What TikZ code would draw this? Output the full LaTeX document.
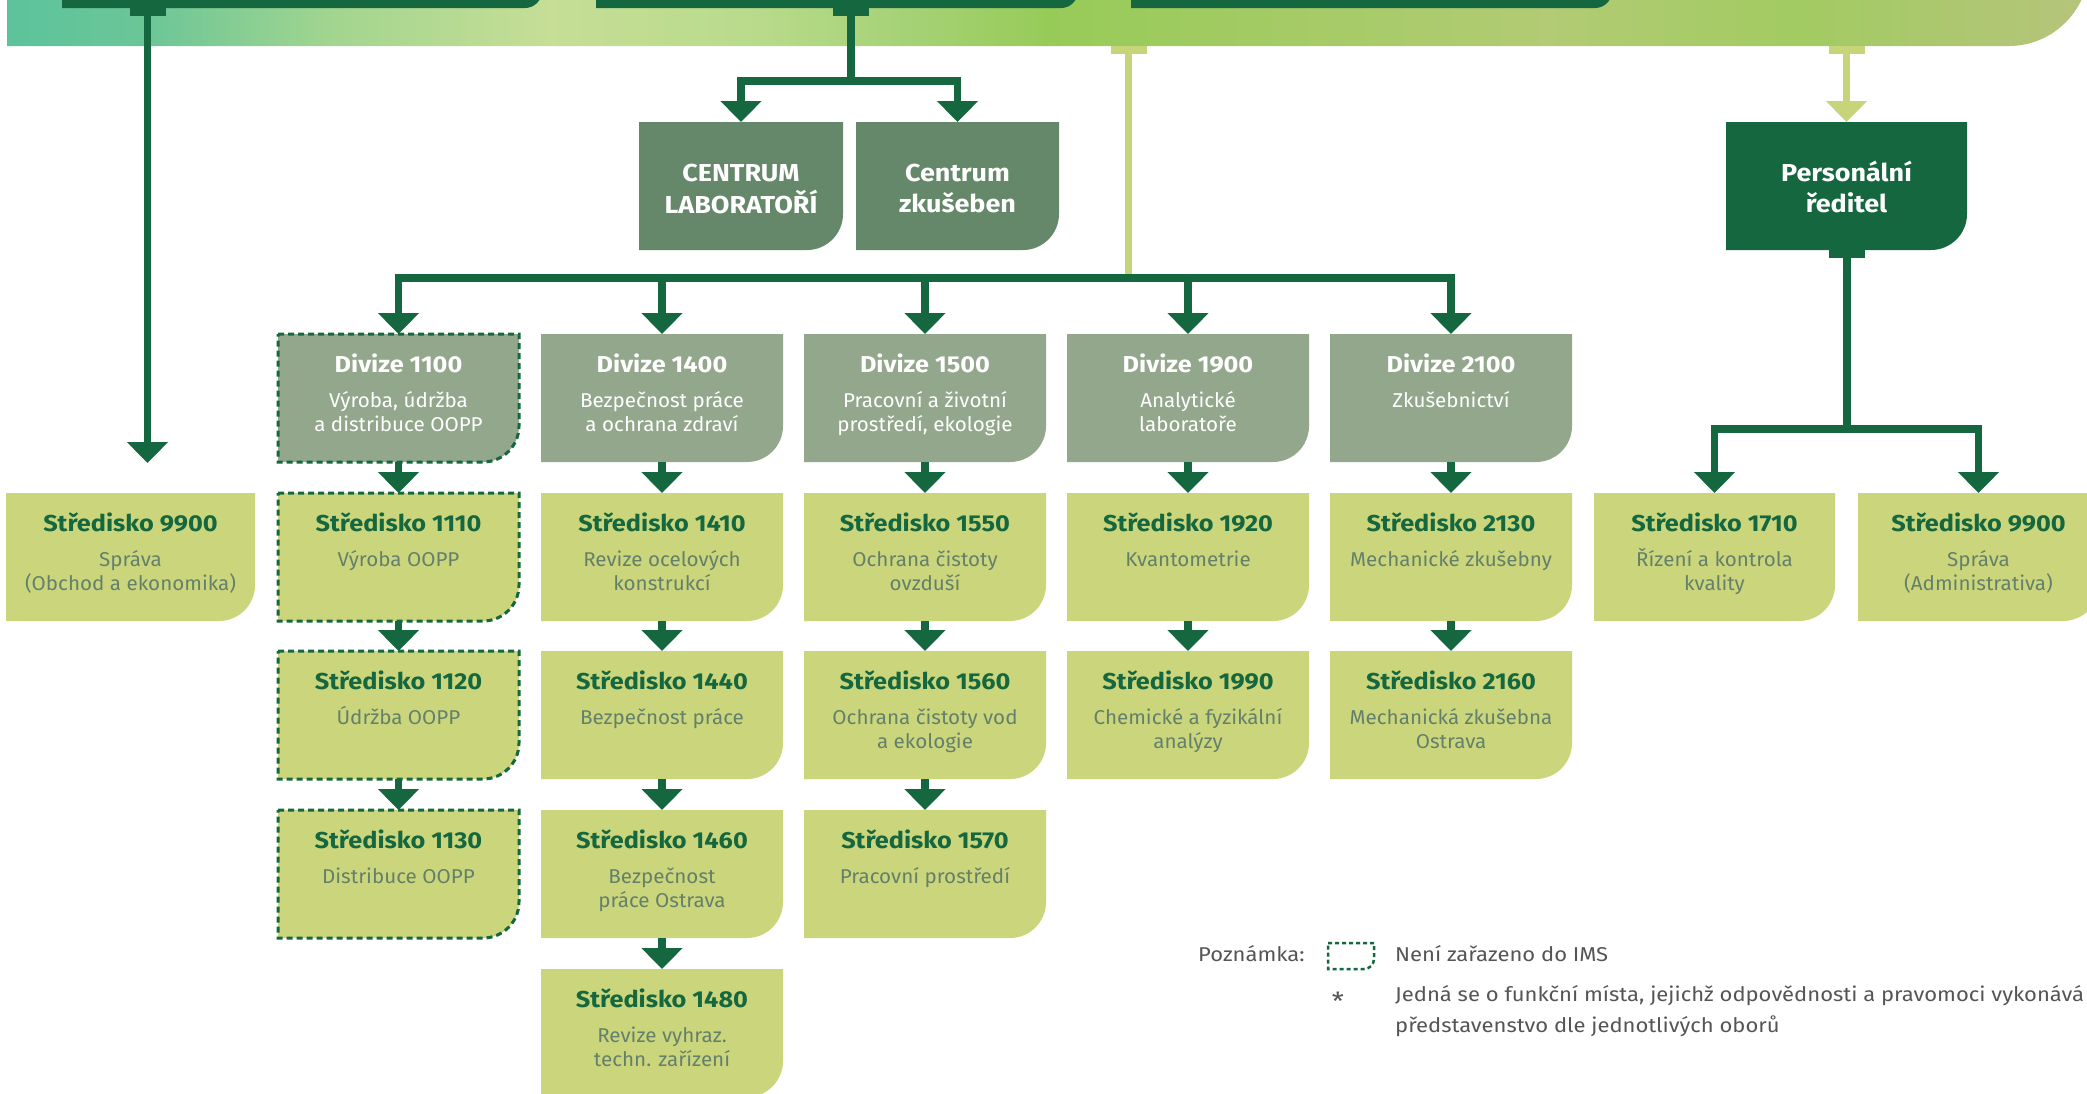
\documentclass[tikz,border=0pt]{standalone}
\usepackage{fontspec}
\setmainfont{Fira Sans}[FakeStretch=1.1]
\newfontfamily\subfont{Fira Sans}[FakeStretch=1.03]
\usetikzlibrary{arrows.meta,calc}
\definecolor{dkgreen}{HTML}{15673F}
\definecolor{divfill}{HTML}{93A78C}
\definecolor{cenfill}{HTML}{66886A}
\definecolor{stfill}{HTML}{CBD67C}
\definecolor{ltgreen}{HTML}{C8D47A}
\definecolor{subgray}{HTML}{64806A}
\definecolor{notegray}{HTML}{555555}
\definecolor{b0}{HTML}{5CC39C}
\definecolor{b1}{HTML}{6CC697}
\definecolor{b2}{HTML}{A2D58F}
\definecolor{b3}{HTML}{C6DE96}
\definecolor{b4}{HTML}{B9DB8C}
\definecolor{b5}{HTML}{A6D277}
\definecolor{b6}{HTML}{97CB58}
\definecolor{b7}{HTML}{A5CB66}
\definecolor{b8}{HTML}{B2CB74}
\definecolor{b9}{HTML}{A2CB62}
\definecolor{b10}{HTML}{B6C47C}
\pgfdeclarehorizontalshading{banner}{100bp}{color(0bp)=(b0); color(25bp)=(b0); color(28.4bp)=(b1); color(32.8bp)=(b2); color(38bp)=(b3); color(42.8bp)=(b4); color(46.5bp)=(b5); color(50bp)=(b6); color(56bp)=(b7); color(62bp)=(b8); color(68bp)=(b9); color(75bp)=(b10); color(100bp)=(b10)}
\newcommand\ml[1]{\begin{tabular}[t]{@{}c@{}}#1\end{tabular}}
% optional radius, name, x, y, w, h, style
\newcommand\orgbox[7][36]{%
  \path[#7] (#3,#4) -- (#3+#5,#4) -- (#3+#5,#4+#6-#1)
    .. controls (#3+#5,#4+#6-0.448*#1) and (#3+#5-0.448*#1,#4+#6) .. (#3+#5-#1,#4+#6)
    -- (#3,#4+#6) -- cycle;
  \node[anchor=north west, inner sep=0pt, outer sep=0pt, minimum width=#5pt, minimum height=#6pt] (#2) at (#3,#4) {};}
% name, title style, title, sub style, sub
\newcommand\btext[5]{%
  \node[#2] (#1-t) at ($(#1.north)+(0,38.5)$) {#3};
  \node[#4] (#1-s) at ($(#1.north)+(0,73)$) {\ml{#5}};}
\tikzset{
 ttl/.style={anchor=base, inner sep=0pt, font=\fontsize{23}{31}\selectfont\bfseries, text=dkgreen},
 wttl/.style={ttl, text=white},
 cttl/.style={wttl, font=\fontsize{24.5}{31}\selectfont\bfseries},
 sub/.style={anchor=base, inner sep=0pt, font=\subfont\fontsize{20}{24}\selectfont, text=subgray},
 wsub/.style={sub, text=white},
 note/.style={inner sep=0pt, font=\fontsize{20}{24}\selectfont, text=notegray},
 conn/.style={draw=dkgreen, line width=7.5pt},
 lconn/.style={draw=ltgreen, line width=7.5pt},
 arr/.style={-{Triangle[width=40pt,length=21pt]}},
 tabstub/.style={fill=dkgreen, minimum width=36pt, minimum height=8pt, inner sep=0pt, outer sep=0pt},
 ltabstub/.style={tabstub, fill=ltgreen},
 stbox/.style={fill=stfill},
 stdash/.style={fill=stfill, draw=dkgreen, line width=3pt, dash pattern=on 6pt off 4pt},
 dvbox/.style={fill=divfill},
 dvdash/.style={fill=divfill, draw=dkgreen, line width=3pt, dash pattern=on 6pt off 4pt},
 cnbox/.style={fill=cenfill},
 dkbox/.style={fill=dkgreen},
}
\begin{document}
\begin{tikzpicture}[x=1pt,y=-1pt]
\useasboundingbox (0,0) rectangle (2087,1093);
\fill[white] (0,0) rectangle (2087,1093);
% banner
\path[shading=banner] (7,-40) -- (2089,-40) -- (2089,-34) .. controls (2089,10) and (2053,46) .. (2009,46) -- (7,46) -- cycle;
% top boxes
\orgbox[17]{top1}{62}{-60}{480}{68}{dkbox}
\orgbox[17]{top2}{596}{-60}{482}{68}{dkbox}
\orgbox[17]{top3}{1131}{-60}{481}{68}{dkbox}
% centrum and personal boxes
\orgbox{cl}{639}{122}{204}{128}{cnbox}
\orgbox{cz}{856}{122}{203}{128}{cnbox}
\orgbox{pr}{1726}{122}{241}{128}{dkbox}
\node[cttl] (cl-t) at ($(cl.north)+(0,59)$) {\ml{CENTRUM\\LABORATOŘÍ}};
\node[cttl] (cz-t) at ($(cz.north)+(0,59)$) {\ml{Centrum\\zkušeben}};
\node[cttl] (pr-t) at ($(pr.north)+(0,59)$) {\ml{Personální\\ředitel}};
% divisions
\orgbox{d1100}{278}{334}{241}{128}{dvdash}
\orgbox{d1400}{541}{334}{242}{128}{dvbox}
\orgbox{d1500}{804}{334}{242}{128}{dvbox}
\orgbox{d1900}{1067}{334}{242}{128}{dvbox}
\orgbox{d2100}{1330}{334}{242}{128}{dvbox}
\btext{d1100}{wttl}{Divize 1100}{wsub}{Výroba, údržba\\a distribuce OOPP}
\btext{d1400}{wttl}{Divize 1400}{wsub}{Bezpečnost práce\\a ochrana zdraví}
\btext{d1500}{wttl}{Divize 1500}{wsub}{Pracovní a životní\\prostředí, ekologie}
\btext{d1900}{wttl}{Divize 1900}{wsub}{Analytické\\laboratoře}
\btext{d2100}{wttl}{Divize 2100}{wsub}{Zkušebnictví}
% row 1
\orgbox{sL9900}{6}{493}{249}{128}{stbox}
\orgbox{s1110}{278}{493}{241}{128}{stdash}
\orgbox{s1410}{541}{493}{242}{128}{stbox}
\orgbox{s1550}{804}{493}{242}{128}{stbox}
\orgbox{s1920}{1067}{493}{242}{128}{stbox}
\orgbox{s2130}{1330}{493}{242}{128}{stbox}
\orgbox{s1710}{1594}{493}{241}{128}{stbox}
\orgbox{sR9900}{1858}{493}{241}{128}{stbox}
\btext{sL9900}{ttl}{Středisko 9900}{sub}{Správa\\(Obchod a ekonomika)}
\btext{s1110}{ttl}{Středisko 1110}{sub}{Výroba OOPP}
\btext{s1410}{ttl}{Středisko 1410}{sub}{Revize ocelových\\konstrukcí}
\btext{s1550}{ttl}{Středisko 1550}{sub}{Ochrana čistoty\\ovzduší}
\btext{s1920}{ttl}{Středisko 1920}{sub}{Kvantometrie}
\btext{s2130}{ttl}{Středisko 2130}{sub}{Mechanické zkušebny}
\btext{s1710}{ttl}{Středisko 1710}{sub}{Řízení a kontrola\\kvality}
\btext{sR9900}{ttl}{Středisko 9900}{sub}{Správa\\(Administrativa)}
% row 2
\orgbox{s1120}{278}{651}{241}{128}{stdash}
\orgbox{s1440}{541}{651}{242}{128}{stbox}
\orgbox{s1560}{804}{651}{242}{128}{stbox}
\orgbox{s1990}{1067}{651}{242}{128}{stbox}
\orgbox{s2160}{1330}{651}{242}{128}{stbox}
\btext{s1120}{ttl}{Středisko 1120}{sub}{Údržba OOPP}
\btext{s1440}{ttl}{Středisko 1440}{sub}{Bezpečnost práce}
\btext{s1560}{ttl}{Středisko 1560}{sub}{Ochrana čistoty vod\\a ekologie}
\btext{s1990}{ttl}{Středisko 1990}{sub}{Chemické a fyzikální\\analýzy}
\btext{s2160}{ttl}{Středisko 2160}{sub}{Mechanická zkušebna\\Ostrava}
% row 3
\orgbox{s1130}{278}{810}{241}{128}{stdash}
\orgbox{s1460}{541}{810}{242}{128}{stbox}
\orgbox{s1570}{804}{810}{242}{128}{stbox}
\btext{s1130}{ttl}{Středisko 1130}{sub}{Distribuce OOPP}
\btext{s1460}{ttl}{Středisko 1460}{sub}{Bezpečnost\\práce Ostrava}
\btext{s1570}{ttl}{Středisko 1570}{sub}{Pracovní prostředí}
% row 4
\orgbox{s1480}{541}{969}{242}{128}{stbox}
\btext{s1480}{ttl}{Středisko 1480}{sub}{Revize vyhraz.\\techn. zařízení}
% connectors
\coordinate (e9900) at (147.5,463);
\coordinate (cj) at (851,81);
\coordinate (dj) at (1128.5,278);
\coordinate (pj) at (1847,429);
\node[tabstub] (tab1) at (147.5,12) {};
\node[tabstub] (tab2) at (851,12) {};
\node[ltabstub] (ltab3) at (1128.5,50) {};
\node[ltabstub] (ltab4) at (1846.5,50) {};
\node[tabstub] (tab5) at (1847,254) {};
\draw[conn,arr] (tab1.center) -- (e9900);
\draw[conn] (tab2.center) -- (cj);
\draw[conn,arr] (cj) -| (cl.north);
\draw[conn,arr] (cj) -| (cz.north);
\draw[lconn] (ltab3.center) -- (dj);
\foreach \d in {d1100,d1400,d1500,d1900,d2100} \draw[conn,arr] (dj) -| (\d.north);
\draw[lconn,arr] (ltab4.center) -- (pr.north);
\draw[conn] (tab5.center) -- (pj);
\draw[conn,arr] (pj) -| (s1710.north);
\draw[conn,arr] (pj) -| (sR9900.north);
\foreach \a/\b in {d1100/s1110,s1110/s1120,s1120/s1130,d1400/s1410,s1410/s1440,s1440/s1460,s1460/s1480,d1500/s1550,s1550/s1560,s1560/s1570,d1900/s1920,s1920/s1990,d2100/s2130,s2130/s2160}
  \draw[conn,arr] (\a.south) -- (\b.north);
% note
\node[note, anchor=base west] (pozn) at (1198,961) {Poznámka:};
\orgbox[10]{icon}{1328}{943}{46}{26}{draw=dkgreen, line width=2.5pt, dash pattern=on 4pt off 3pt}
\node[note, anchor=base west] (nims) at (1395,961) {Není zařazeno do IMS};
\node[note, font=\fontsize{25}{25}\selectfont] (star) at (1338,1001) {*};
\node[note, anchor=base west] (fm1) at (1395,1001) {Jedná se o funkční místa, jejichž odpovědnosti a pravomoci vykonává};
\node[note, anchor=base west] (fm2) at (1395,1032) {představenstvo dle jednotlivých oborů};
\end{tikzpicture}
\end{document}
